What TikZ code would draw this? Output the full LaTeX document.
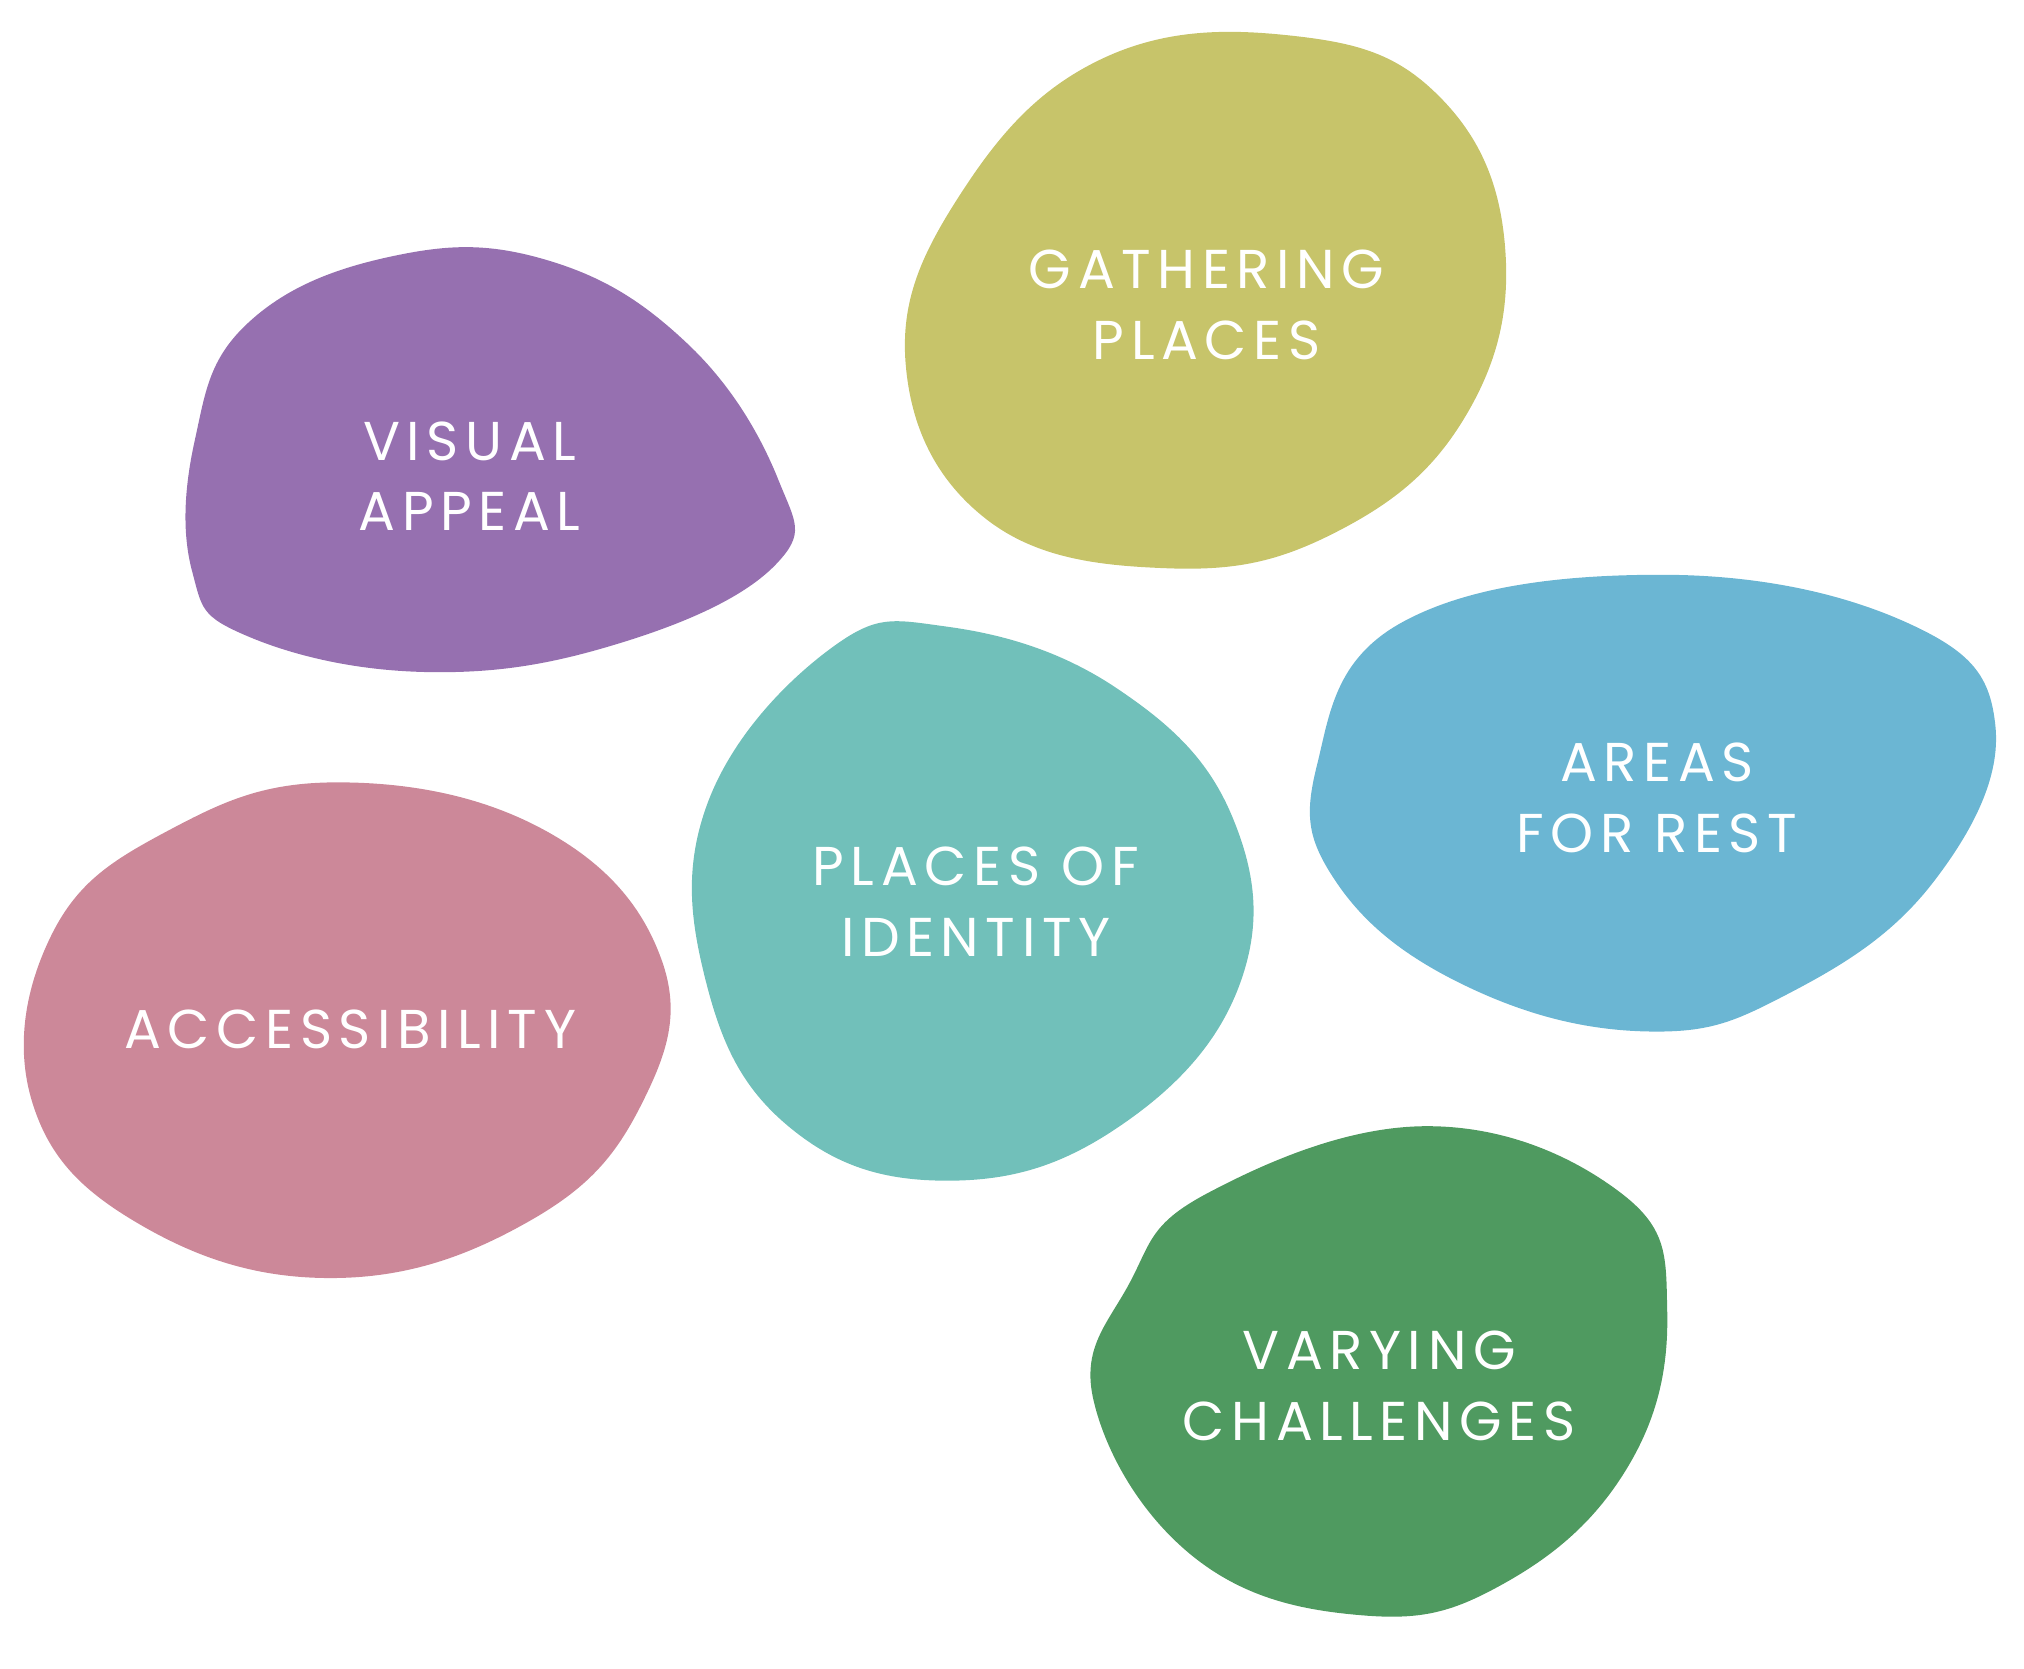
\documentclass[tikz,border=0pt]{standalone}
\usepackage{fontspec}
\setmainfont[LetterSpace=12]{Poppins}
\usetikzlibrary{calc}

\definecolor{blobpurple}{HTML}{9670B0}
\definecolor{blobolive}{HTML}{C7C46A}
\definecolor{blobblue}{HTML}{6BB6D3}
\definecolor{blobteal}{HTML}{71C0BA}
\definecolor{blobpink}{HTML}{CC8899}
\definecolor{blobgreen}{HTML}{4F9A60}

\tikzset{
  blob/.style={draw=none,smooth cycle,tension=0.7},
  label/.style={text=white,align=center,font=\fontsize{12}{15.5}\selectfont}
}

\begin{document}
\begin{tikzpicture}[x=0.1mm,y=-0.1mm]
            % Fix the page size
            \useasboundingbox (0,0) rectangle (1560,1286);

            % Draw the blobs
            \fill[blobpurple] plot[blob] coordinates {(300,198) (420,200) (530,265) (600,370) (598,435) (480,495) (330,518) (190,490) (148,440) (150,340) (190,250)};
            \fill[blobolive] plot[blob] coordinates {(850,45) (1000,28) (1110,75) (1160,190) (1130,320) (1030,410) (900,438) (760,400) (698,280) (740,150)};
            \fill[blobblue] plot[blob] coordinates {(1080,480) (1280,443) (1470,480) (1538,560) (1490,680) (1380,765) (1270,795) (1130,760) (1030,680) (1015,590)};
            \fill[blobteal] plot[blob] coordinates {(640,500) (730,483) (860,530) (950,630) (955,760) (860,870) (730,910) (610,870) (545,760) (545,620)};
            \fill[blobpink] plot[blob] coordinates {(130,640) (260,603) (420,640) (510,740) (495,850) (410,940) (260,985) (110,945) (25,850) (40,720)};
            \fill[blobgreen] plot[blob] coordinates {(930,920) (1100,868) (1250,920) (1285,1010) (1255,1130) (1160,1220) (1050,1245) (920,1200) (843,1080) (870,990)};

            % Draw the labels
            \node[label] (visual) at (362,367) {VISUAL\\APPEAL};
            \node[label] (gathering) at (930,235) {GATHERING\\PLACES};
            \node[label] (rest) at (1277,615) {AREAS\\FOR REST};
            \node[label] (identity) at (752,695) {PLACES OF\\IDENTITY};
            \node[label] (access) at (270,793) {ACCESSIBILITY};
            \node[label] (varying) at (1063,1068) {VARYING\\CHALLENGES};
\end{tikzpicture}
\end{document}
